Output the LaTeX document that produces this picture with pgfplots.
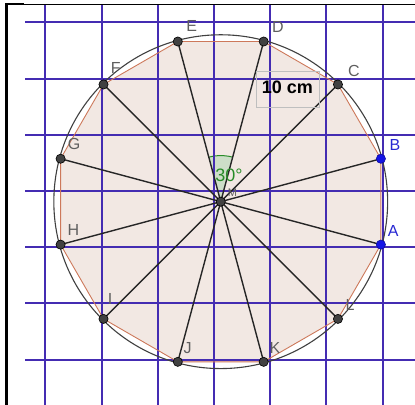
\documentclass[border=0pt]{standalone}
\usepackage{pgfplots}
\pgfplotsset{compat=1.18}
\usepackage{fontspec}
\setmainfont{Liberation Sans}
\definecolor{gridblue}{RGB}{68,44,178}
\definecolor{fillpink}{RGB}{242,232,227}
\definecolor{edgebrown}{RGB}{205,120,90}
\definecolor{ptgray}{RGB}{65,65,65}
\definecolor{lblgray}{RGB}{95,95,95}
\definecolor{ptblue}{RGB}{20,20,230}
\definecolor{lblblue}{RGB}{40,40,210}
\definecolor{anggreen}{RGB}{40,140,40}
\definecolor{angfill}{RGB}{205,222,200}
\begin{document}
\begin{tikzpicture}
\begin{axis}[width=415pt,height=405pt,scale only axis,
  xmin=-3.808,xmax=3.577,ymin=-3.808,ymax=3.399,hide axis,clip=true]
% polygon fill
\addplot[draw=none,fill=fillpink] coordinates {
 (2.970,-0.954) (2.970,0.574) (2.206,1.896) (0.884,2.660) (-0.644,2.660) (-1.966,1.896)
 (-2.730,0.574) (-2.730,-0.954) (-1.966,-2.276) (-0.644,-3.040) (0.884,-3.040) (2.206,-2.276)} -- cycle;
% angle sector
\addplot[draw=none,fill=angfill] coordinates {(0.12,-0.19) (0.332,0.602) (0.262,0.618) (0.1915,0.627) (0.12,0.63) (0.0485,0.627) (-0.022,0.618) (-0.092,0.602)} -- cycle;
\addplot[anggreen,line width=1pt] coordinates {(0.332,0.602) (0.262,0.618) (0.1915,0.627) (0.12,0.63) (0.0485,0.627) (-0.022,0.618) (-0.092,0.602)};
% grid
\pgfplotsset{gl/.style={gridblue,line width=2pt}}
\addplot[gl] coordinates {(-3,3.327) (-3,-3.808)};
\addplot[gl] coordinates {(-2,3.327) (-2,-3.808)};
\addplot[gl] coordinates {(-1,3.327) (-1,-3.808)};
\addplot[gl] coordinates {(0,3.327) (0,-3.808)};
\addplot[gl] coordinates {(1,3.327) (1,-3.808)};
\addplot[gl] coordinates {(2,3.327) (2,-3.808)};
\addplot[gl] coordinates {(3,3.327) (3,-3.808)};
\addplot[gl] coordinates {(-3.363,3) (3.577,3)};
\addplot[gl] coordinates {(-3.363,2) (3.577,2)};
\addplot[gl] coordinates {(-3.363,1) (3.577,1)};
\addplot[gl] coordinates {(-3.363,0) (3.577,0)};
\addplot[gl] coordinates {(-3.363,-1) (3.577,-1)};
\addplot[gl] coordinates {(-3.363,-2) (3.577,-2)};
\addplot[gl] coordinates {(-3.363,-3) (3.577,-3)};
% frame lines
\addplot[black,line width=3pt] coordinates {(-3.692,3.345) (-3.692,-3.808)};
\addplot[black,line width=1pt] coordinates {(-3.692,3.327) (3.577,3.327)};
\addplot[black,line width=2pt] coordinates {(-3.692,3.327) (-3.38,3.327)};
% circle
\draw[black!75,line width=1.1pt] (axis cs:0.12,-0.19) circle[radius=2.97];
% polygon edges
\addplot[edgebrown,line width=0.9pt] coordinates {
 (2.970,-0.954) (2.970,0.574) (2.206,1.896) (0.884,2.660) (-0.644,2.660) (-1.966,1.896)
 (-2.730,0.574) (-2.730,-0.954) (-1.966,-2.276) (-0.644,-3.040) (0.884,-3.040) (2.206,-2.276)} -- cycle;
% diameters
\pgfplotsset{dl/.style={black!85,line width=1.4pt}}
\addplot[dl] coordinates {(2.970,-0.954) (-2.730,0.574)};
\addplot[dl] coordinates {(2.970,0.574) (-2.730,-0.954)};
\addplot[dl] coordinates {(2.206,1.896) (-1.966,-2.276)};
\addplot[dl] coordinates {(0.884,2.660) (-0.644,-3.040)};
\addplot[dl] coordinates {(-0.644,2.660) (0.884,-3.040)};
\addplot[dl] coordinates {(-1.966,1.896) (2.206,-2.276)};
% points
\addplot[only marks,mark=*,mark size=4.6pt,mark options={fill=ptgray,draw=black,line width=0.6pt}] coordinates {
 (2.206,1.896) (0.884,2.660) (-0.644,2.660) (-1.966,1.896)
 (-2.730,0.574) (-2.730,-0.954) (-1.966,-2.276) (-0.644,-3.040) (0.884,-3.040) (2.206,-2.276) (0.12,-0.19)};
\addplot[only marks,mark=*,mark size=4.6pt,mark options={fill=ptblue,draw=ptblue!70!black,line width=0.6pt}] coordinates {
 (2.970,-0.954) (2.970,0.574)};
% labels
\tikzset{pl/.style={text=lblgray,font=\fontsize{16}{18}\selectfont,inner sep=0pt}}
\node[pl] at (axis cs:-0.397,2.936) {E};
\node[pl] at (axis cs:1.139,2.913) {D};
\node[pl] at (axis cs:2.491,2.141) {C};
\node[pl] at (axis cs:-1.749,2.183) {F};
\node[pl] at (axis cs:-2.491,0.836) {G};
\node[pl,text=lblblue] at (axis cs:3.221,0.819) {B};
\node[pl] at (axis cs:-2.504,-0.694) {H};
\node[pl,text=lblblue] at (axis cs:3.190,-0.706) {A};
\node[pl] at (axis cs:-1.851,-1.922) {I};
\node[pl] at (axis cs:2.420,-2.028) {L};
\node[pl] at (axis cs:-0.468,-2.788) {J};
\node[pl] at (axis cs:1.085,-2.788) {K};
\node[pl,font=\fontsize{11}{12}\selectfont] at (axis cs:0.33,-0.03) {M};
\node[text=anggreen,font=\fontsize{18}{20}\selectfont,inner sep=0pt] at (axis cs:0.267,0.285) {30°};
% 10 cm box
\draw[black!25,line width=0.8pt] (axis cs:0.760,2.123) rectangle (axis cs:1.874,1.489);
\node[font=\bfseries\fontsize{18}{20}\selectfont,inner sep=0pt] at (axis cs:1.308,1.842) {10 cm};
\end{axis}
\path (current axis.south west) rectangle (current axis.north east);
\end{tikzpicture}
\end{document}
